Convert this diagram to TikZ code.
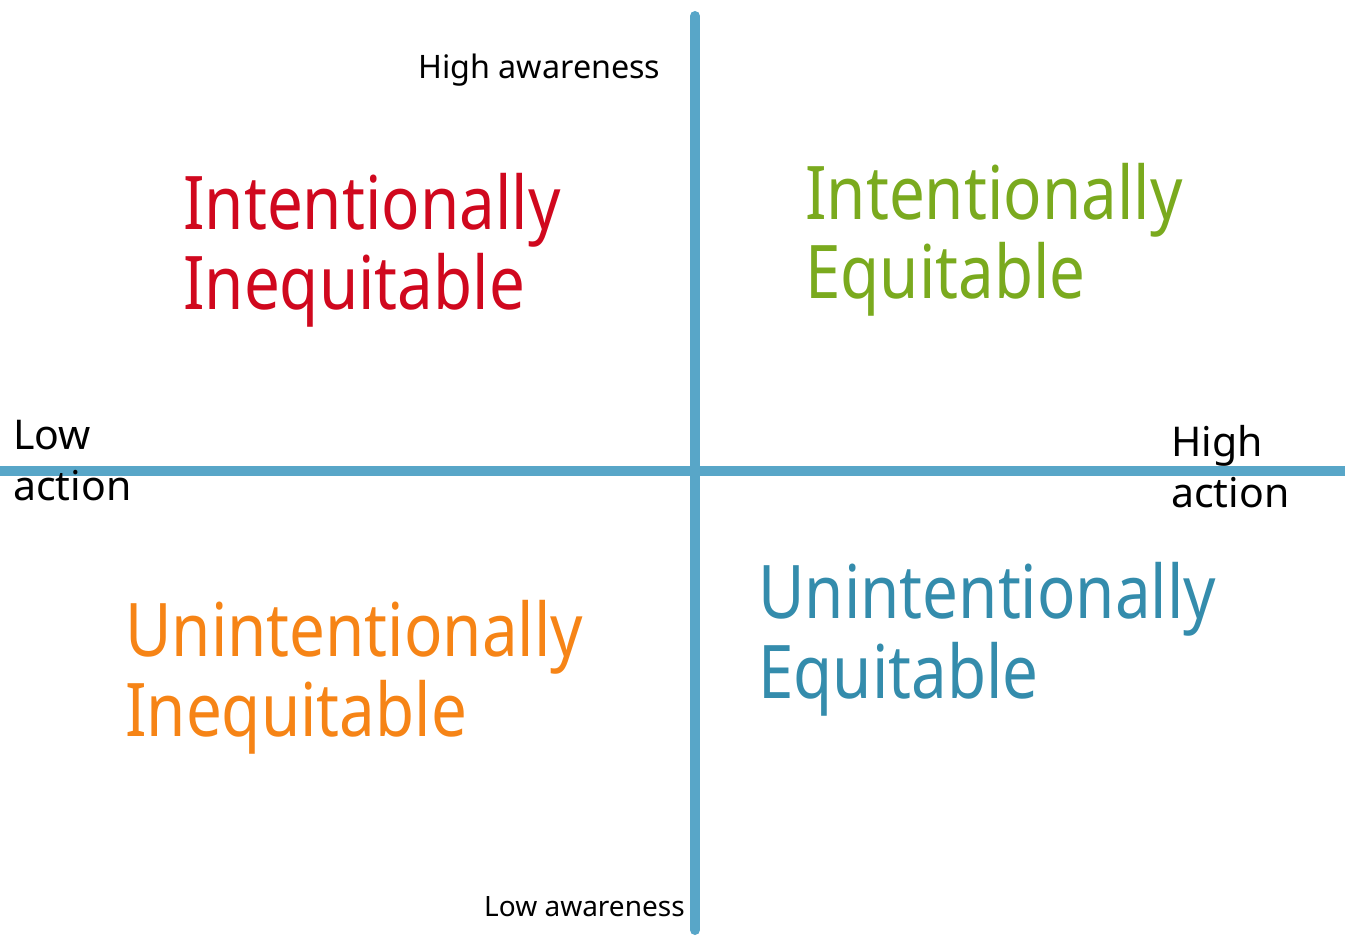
\documentclass[tikz,border=0pt]{standalone}
\usepackage{fontspec}
\setmainfont{Noto Sans}
\newfontfamily\narrowfont{Noto Sans}[FakeStretch=0.86]
\definecolor{axisblue}{RGB}{88,166,200}
\definecolor{qred}{RGB}{208,8,30}
\definecolor{qgreen}{RGB}{122,170,30}
\definecolor{qorange}{RGB}{246,132,22}
\definecolor{qblue}{RGB}{52,140,172}
\begin{document}
\begin{tikzpicture}[x=1pt,y=-1pt,
  axis/.style={draw=axisblue,line width=10pt},
  small/.style={inner sep=0pt,anchor=base west},
  side/.style={inner sep=0pt,anchor=base west,align=left,font=\fontsize{41}{51}\selectfont},
  big/.style={inner sep=0pt,anchor=base west,align=left,font=\narrowfont\fontsize{74}{80}\selectfont}]
\useasboundingbox (0,0) rectangle (1345,936);
\coordinate (vt) at (695,16);
\coordinate (vb) at (695,930);
\coordinate (hl) at (0,471);
\coordinate (hr) at (1345,471);
\draw[axis,line cap=round] (vt) -- (vb);
\draw[axis] (hl) -- (hr);
\node[small,font=\fontsize{32.3}{36}\selectfont] (ha) at (418,79) {High awareness};
\node[small,font=\fontsize{28}{32}\selectfont] (la) at (484,916) {Low awareness};
\node[side] (lo) at (13,500) {Low\\action};
\node[side] (hi) at (1171,507) {High\\action};
\node[big,text=qred] (ii) at (183,309) {Intentionally\\Inequitable};
\node[big,text=qgreen] (ie) at (805,299) {Intentionally\\Equitable};
\node[big,text=qorange] (ui) at (125,736) {Unintentionally\\Inequitable};
\node[big,text=qblue] (ue) at (758,698) {Unintentionally\\Equitable};
\end{tikzpicture}
\end{document}
